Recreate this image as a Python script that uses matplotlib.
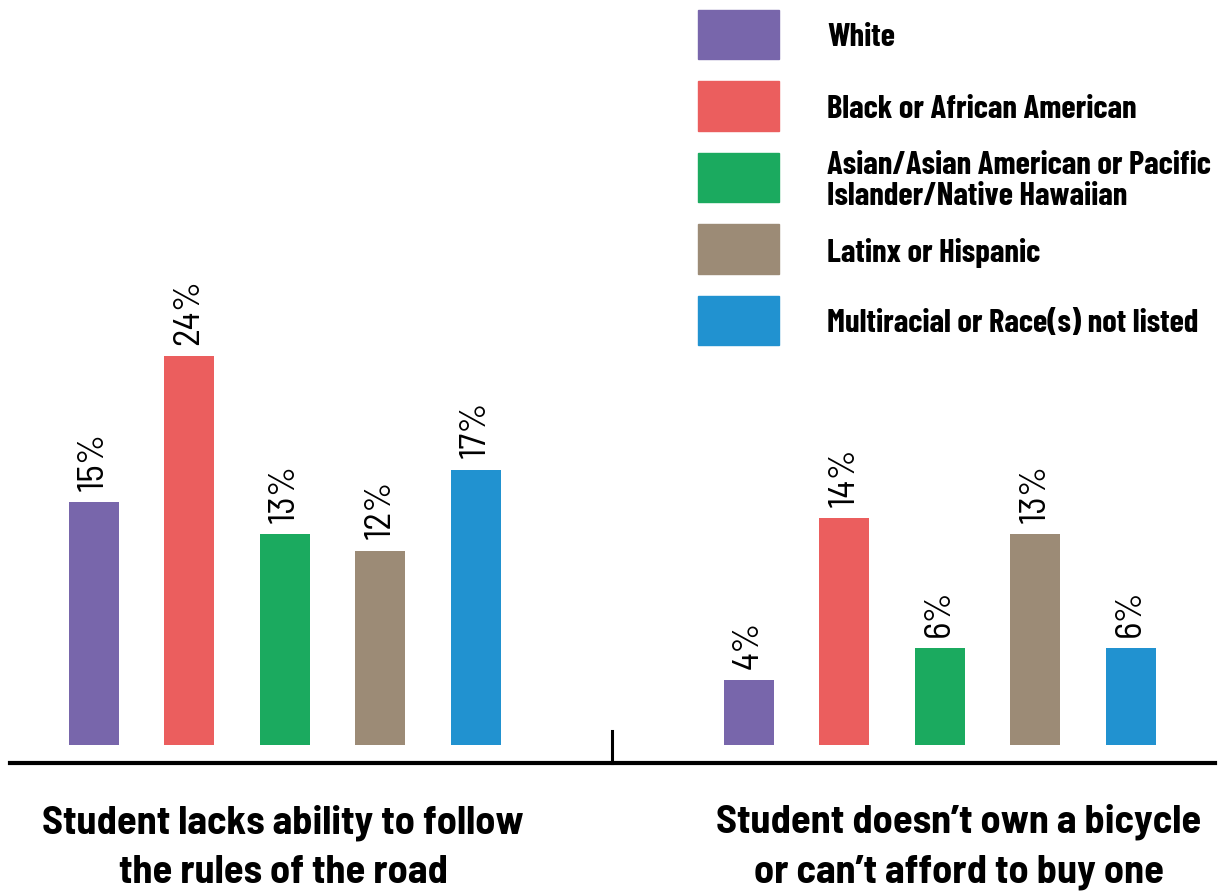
import matplotlib.pyplot as plt
from matplotlib.patches import Rectangle
from matplotlib.lines import Line2D

# Data
groups = ['White', 'Black or African American',
          'Asian/Asian American or Pacific\nIslander/Native Hawaiian',
          'Latinx or Hispanic', 'Multiracial or Race(s) not listed']
colors = ['#7866AB', '#EB5E5E', '#1BAA5F', '#9C8B76', '#2192D0']
categories = ['Student lacks ability to follow\nthe rules of the road',
              'Student doesn\u2019t own a bicycle\nor can\u2019t afford to buy one']
lacks_ability = [15, 24, 13, 12, 17]
no_bicycle = [4, 14, 6, 13, 6]

W, H = 1219, 894
fig = plt.figure(figsize=(W / 100, H / 100), dpi=100)
semi = ['Barlow Semi Condensed', 'DejaVu Sans']
cond = ['Barlow Condensed', 'DejaVu Sans']

# plotting area: baseline of bars at 745 px from top, 16.2 px per percent
ax = fig.add_axes([0, (H - 745) / H, 1, 745 / H])
ax.set_xlim(0, W)
ax.set_ylim(0, 745 / 16.2)
ax.axis('off')

group_centers = [284.5, 939.5]
spacing = 95.5
for gc, vals in zip(group_centers, [lacks_ability, no_bicycle]):
    xs = [gc + (i - 2) * spacing for i in range(len(vals))]
    ax.bar(xs, vals, width=50, color=colors)
    for x, v in zip(xs, vals):
        ax.annotate(f'{v}%', (x, v), xytext=(0, 8), textcoords='offset points',
                    rotation=90, ha='center', va='bottom',
                    fontsize=27, family=semi)

# baseline and divider tick
fig.add_artist(Line2D([10 / W, 1215 / W], [1 - 763 / H] * 2, color='black', lw=3))
fig.add_artist(Line2D([612 / W] * 2, [1 - 731 / H, 1 - 763 / H], color='black', lw=2.2))

# category labels
for xc, lab in zip([283, 959], categories):
    fig.text(xc / W, 1 - 847 / H, lab, ha='center', va='center',
             fontsize=29, fontweight='bold', family=semi, linespacing=1.5)

# legend
for i, (g, c) in enumerate(zip(groups, colors)):
    top = 10 + i * 71.5
    fig.add_artist(Rectangle((698 / W, 1 - (top + 49) / H), 81 / W, 49 / H,
                             color=c, transform=fig.transFigure))
    fig.text(827 / W, 1 - (top + 28) / H, g, ha='left', va='center',
             fontsize=23.5, fontweight='bold', family=cond, linespacing=1.1)

fig.savefig('out.png', dpi=100)
